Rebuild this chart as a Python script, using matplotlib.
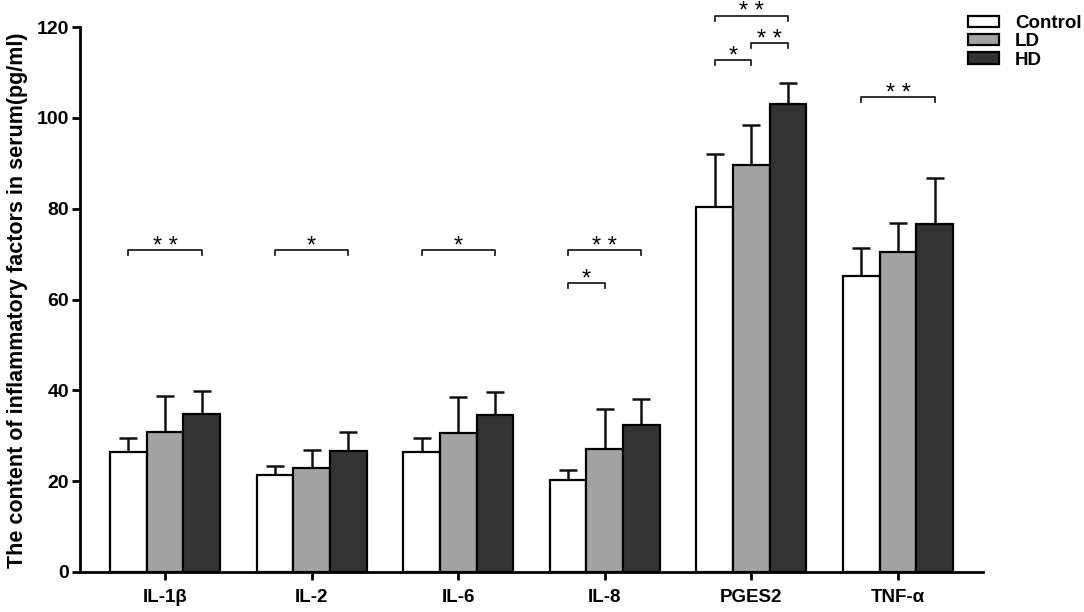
import numpy as np
import matplotlib.pyplot as plt

plt.rcParams['font.family'] = ['Liberation Sans', 'DejaVu Sans']

categories = ['IL-1β', 'IL-2', 'IL-6', 'IL-8', 'PGES2', 'TNF-α']
groups = ['Control', 'LD', 'HD']
control = [26.5, 21.3, 26.5, 20.3, 80.3, 65.1]
control_err = [3.0, 2.0, 3.0, 2.1, 11.7, 6.3]
ld = [30.8, 22.8, 30.7, 27.1, 89.7, 70.5]
ld_err = [7.9, 4.1, 7.8, 8.9, 8.7, 6.3]
hd = [34.8, 26.6, 34.6, 32.4, 103.0, 76.7]
hd_err = [5.1, 4.2, 5.0, 5.8, 4.6, 10.1]

# (category index, bar a, bar b, height, label)
sig = [
    (0, 0, 2, 70.9, '* *'),
    (1, 0, 2, 70.9, '*'),
    (2, 0, 2, 70.9, '*'),
    (3, 0, 2, 70.9, '* *'),
    (3, 0, 1, 63.6, '*'),
    (4, 0, 2, 122.5, '* *'),
    (4, 1, 2, 116.5, '* *'),
    (4, 0, 1, 112.8, '*'),
    (5, 0, 2, 104.6, '* *'),
]

values = [control, ld, hd]
errors = [control_err, ld_err, hd_err]
colors = ['white', '#a3a3a6', '#333333']
width = 0.25
x = np.arange(len(categories))

fig = plt.figure(figsize=(10.84, 6.12), dpi=100)
ax = fig.add_axes([80 / 1084, 40 / 612, 903 / 1084, 545 / 612])

bars = []
for i in range(3):
    pos = x + (i - 1) * width
    b = ax.bar(pos, values[i], width, color=colors[i], edgecolor='black',
               linewidth=1.6, label=groups[i], zorder=2)
    bars.append(b)
    ax.errorbar(pos, values[i], yerr=[np.zeros(len(x)), errors[i]], fmt='none',
                ecolor='#111111', elinewidth=1.8, capsize=6.5, capthick=1.8,
                zorder=1)

for c, a, b, h, lab in sig:
    x1 = c + (a - 1) * width
    x2 = c + (b - 1) * width
    ax.plot([x1, x1, x2, x2], [h - 1.1, h, h, h - 1.1], color='#222222',
            linewidth=1.3, clip_on=False)
    ax.text((x1 + x2) / 2, h - 0.6, lab, ha='center', va='baseline',
            fontsize=17, clip_on=False)

ax.set_xlim(-0.58, 5.58)
ax.set_ylim(0, 120)
ax.set_yticks(np.arange(0, 121, 20))
ax.set_xticks(x)
ax.set_xticklabels(categories, fontsize=13.5, fontweight='bold')
for t in ax.get_yticklabels():
    t.set_fontsize(14)
    t.set_fontweight('bold')
ax.tick_params(axis='both', width=2, length=6)
ax.tick_params(axis='x', pad=6.5)
ax.tick_params(axis='y', pad=2)
ax.spines['top'].set_visible(False)
ax.spines['right'].set_visible(False)
ax.spines['left'].set_linewidth(2)
ax.spines['bottom'].set_linewidth(2)

fig.text(18 / 1084, 1 - 300 / 612,
         'The content of inflammatory factors in serum(pg/ml)',
         rotation=90, ha='center', va='center', fontsize=15.5,
         fontweight='bold')

fig.legend(handles=bars, labels=groups, loc='upper left',
           bbox_to_anchor=(968 / 1084, 1 - 15 / 612), frameon=False,
           prop={'weight': 'bold', 'size': 13.5}, handlelength=1.65,
           handleheight=0.53, labelspacing=0.07, handletextpad=0.85,
           borderpad=0, borderaxespad=0)

fig.savefig('out.png', dpi=100)
